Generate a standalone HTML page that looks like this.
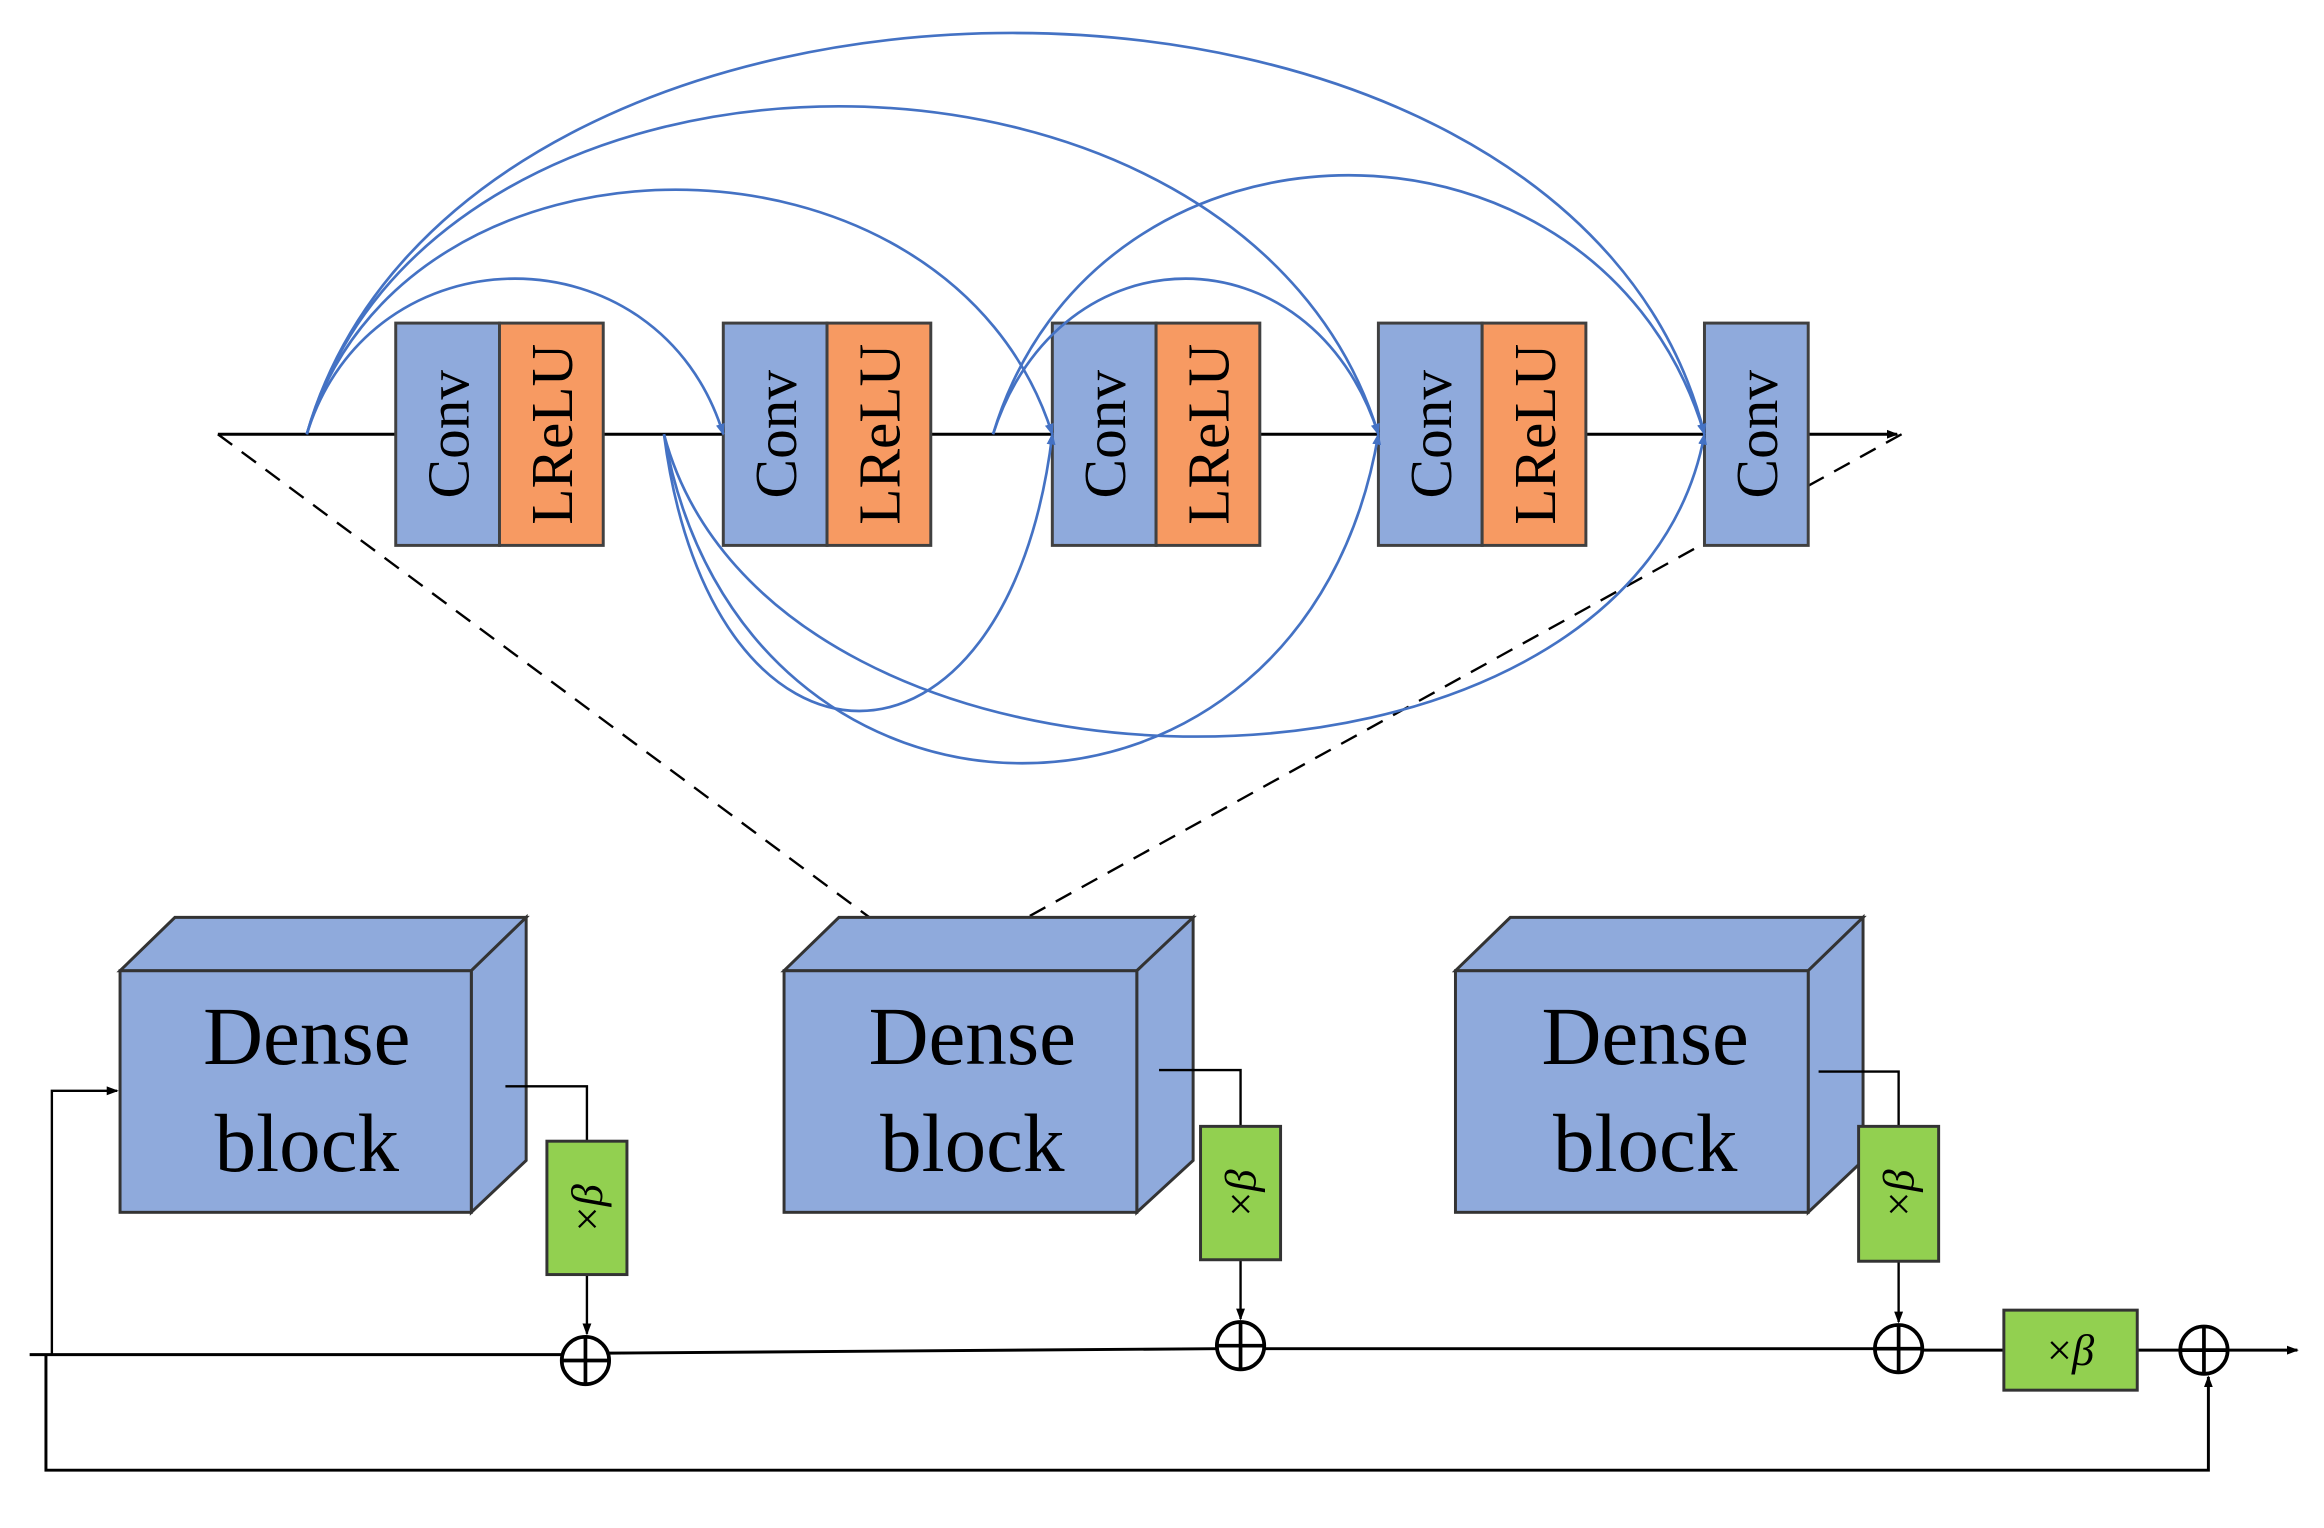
<!DOCTYPE html>
<html><head><meta charset="utf-8"><style>
html,body{margin:0;padding:0;background:#fff;}
svg{display:block;}
text{font-family:"Liberation Serif",serif;}
</style></head><body>
<svg width="2324" height="1528" viewBox="0 0 1568 1031" preserveAspectRatio="none" xmlns="http://www.w3.org/2000/svg">
<defs>
<marker id="a" markerWidth="8" markerHeight="8" refX="7" refY="4" orient="auto" markerUnits="userSpaceOnUse"><path d="M0,1 L8,4 L0,7 z" fill="#000"/></marker>
<marker id="b" markerWidth="8" markerHeight="8" refX="7" refY="4" orient="auto" markerUnits="userSpaceOnUse"><path d="M0,1 L8,4 L0,7 z" fill="#4472c4"/></marker>
</defs>
<rect width="1568" height="1031" fill="#fff"/>
<!-- main top line -->
<line x1="147" y1="293" x2="1280" y2="293" stroke="#000" stroke-width="2" marker-end="url(#a)"/>
<!-- dashed -->
<line x1="147" y1="293" x2="615" y2="640" stroke="#000" stroke-width="1.6" stroke-dasharray="12,8"/>
<line x1="1283" y1="293" x2="655" y2="640" stroke="#000" stroke-width="1.6" stroke-dasharray="12,8"/>
<!-- boxes -->
<g stroke="#404040" stroke-width="2">
<rect x="267" y="218" width="70" height="150" fill="#8faadc"/><rect x="337" y="218" width="70" height="150" fill="#f79a62"/>
<rect x="488" y="218" width="70" height="150" fill="#8faadc"/><rect x="558" y="218" width="70" height="150" fill="#f79a62"/>
<rect x="710" y="218" width="70" height="150" fill="#8faadc"/><rect x="780" y="218" width="70" height="150" fill="#f79a62"/>
<rect x="930" y="218" width="70" height="150" fill="#8faadc"/><rect x="1000" y="218" width="70" height="150" fill="#f79a62"/>
<rect x="1150" y="218" width="70" height="150" fill="#8faadc"/>
</g>
<g font-size="40" fill="#000" text-anchor="middle">
<text transform="translate(316,293) rotate(-90)">Conv</text>
<text transform="translate(386,293) rotate(-90)">LReLU</text>
<text transform="translate(537,293) rotate(-90)">Conv</text>
<text transform="translate(607,293) rotate(-90)">LReLU</text>
<text transform="translate(759,293) rotate(-90)">Conv</text>
<text transform="translate(829,293) rotate(-90)">LReLU</text>
<text transform="translate(979,293) rotate(-90)">Conv</text>
<text transform="translate(1049,293) rotate(-90)">LReLU</text>
<text transform="translate(1199,293) rotate(-90)">Conv</text>
</g>
<!-- blue curves -->
<g fill="none" stroke="#4472c4" stroke-width="1.8" marker-end="url(#b)">
<path d="M207 293 C250 153, 445 153, 488 293"/>
<path d="M207 293 C270 73, 640 73, 710 293"/>
<path d="M207 293 C290 -2, 840 -2, 930 293"/>
<path d="M207 293 C310 -68, 1060 -68, 1150 293"/>
<path d="M670 293 C715 153, 885 153, 930 293"/>
<path d="M670 293 C740 60, 1080 60, 1150 293"/>
<path d="M448 293 C480 542, 680 542, 710 293"/>
<path d="M448 293 C500 589, 880 589, 930 293"/>
<path d="M448 293 C520 565, 1100 565, 1150 293"/>
</g>
<!-- dense blocks -->
<g stroke="#333" stroke-width="2" fill="#8faadc">
<path d="M81 655 L118 619 L355 619 L318 655 Z"/><path d="M318 655 L355 619 L355 783 L318 818 Z"/><rect x="81" y="655" width="237" height="163"/>
<path d="M529 655 L566 619 L805 619 L767 655 Z"/><path d="M767 655 L805 619 L805 783 L767 818 Z"/><rect x="529" y="655" width="238" height="163"/>
<path d="M982 655 L1019 619 L1257 619 L1220 655 Z"/><path d="M1220 655 L1257 619 L1257 783 L1220 818 Z"/><rect x="982" y="655" width="238" height="163"/>
</g>
<g font-size="56" text-anchor="middle" fill="#000">
<text x="207" y="718">Dense</text><text x="207" y="790">block</text>
<text x="656" y="718">Dense</text><text x="656" y="790">block</text>
<text x="1110" y="718">Dense</text><text x="1110" y="790">block</text>
</g>
<!-- connectors -->
<g fill="none" stroke="#000" stroke-width="1.6">
<polyline points="341,733 396,733 396,770"/>
<polyline points="782,722 837,722 837,760"/>
<polyline points="1227,723 1281,723 1281,760"/>
<line x1="396" y1="860" x2="396" y2="900" marker-end="url(#a)"/>
<line x1="837" y1="850" x2="837" y2="890" marker-end="url(#a)"/>
<line x1="1281" y1="851" x2="1281" y2="892" marker-end="url(#a)"/>
<line x1="20" y1="914" x2="379" y2="914" stroke-width="2"/>
<line x1="411" y1="913" x2="821" y2="910" stroke-width="2"/>
<line x1="853" y1="910" x2="1265" y2="910" stroke-width="2"/>
<line x1="1297" y1="911" x2="1352" y2="911" stroke-width="2"/>
<line x1="1442" y1="911" x2="1471" y2="911" stroke-width="2"/>
<line x1="1503" y1="911" x2="1550" y2="911" stroke-width="2" marker-end="url(#a)"/>
<polyline points="35,914 35,736 79,736" marker-end="url(#a)"/>
<polyline points="31,914 31,992 1490,992 1490,929" stroke-width="2" marker-end="url(#a)"/>
</g>
<!-- green boxes -->
<g stroke="#333" stroke-width="2" fill="#92d050">
<rect x="369" y="770" width="54" height="90"/>
<rect x="810" y="760" width="54" height="90"/>
<rect x="1254" y="760" width="54" height="91"/>
<rect x="1352" y="884" width="90" height="54"/>
</g>
<g font-size="30" fill="#000" text-anchor="middle">
<text transform="translate(406,815) rotate(-90)">×<tspan font-style="italic">β</tspan></text>
<text transform="translate(847,805) rotate(-90)">×<tspan font-style="italic">β</tspan></text>
<text transform="translate(1291,805) rotate(-90)">×<tspan font-style="italic">β</tspan></text>
<text x="1397" y="921">×<tspan font-style="italic">β</tspan></text>
</g>
<!-- sum circles -->
<g fill="#fff" stroke="#000" stroke-width="2.5">
<circle cx="395" cy="918" r="16"/><path d="M379 918 H411 M395 902 V934"/>
<circle cx="837" cy="908" r="16"/><path d="M821 908 H853 M837 892 V924"/>
<circle cx="1281" cy="910" r="16"/><path d="M1265 910 H1297 M1281 894 V926"/>
<circle cx="1487" cy="911" r="16"/><path d="M1471 911 H1503 M1487 895 V927"/>
</g>
</svg>
</body></html>
